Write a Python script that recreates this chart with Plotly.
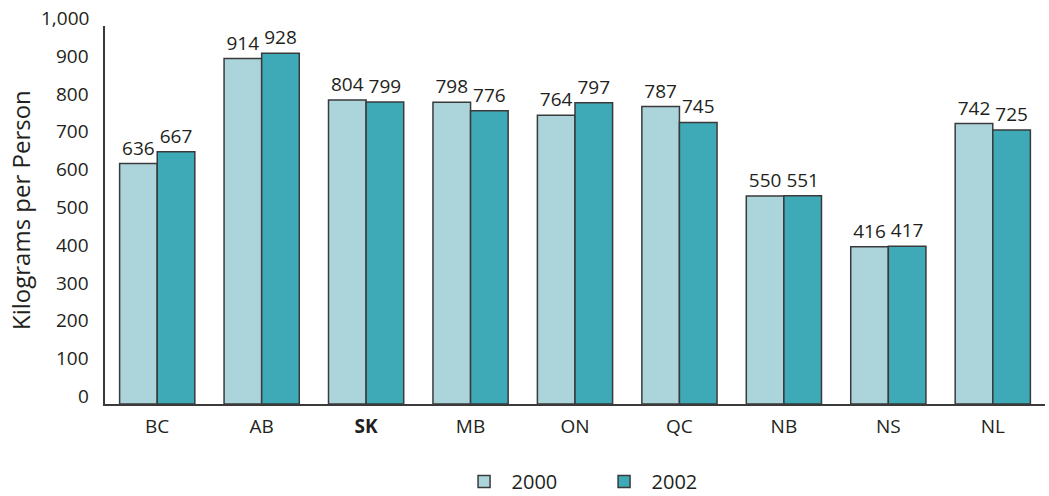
import plotly.graph_objects as go

provinces = ["BC", "AB", "SK", "MB", "ON", "QC", "NB", "NS", "NL"]
tick_text = ["BC", "AB", "<b>SK</b>", "MB", "ON", "QC", "NB", "NS", "NL"]
values_2000 = [636, 914, 804, 798, 764, 787, 550, 416, 742]
values_2002 = [667, 928, 799, 776, 797, 745, 551, 417, 725]
y_ticks = [0, 100, 200, 300, 400, 500, 600, 700, 800, 900, 1000]

FONT = "Open Sans, Noto Sans, sans-serif"
TEXT = "#231f20"
EDGE = "#3a3a3a"

fig = go.Figure()
for name, vals, color in [("2000", values_2000, "#acd5db"),
                          ("2002", values_2002, "#3eaab7")]:
    fig.add_trace(go.Bar(
        name=name, x=provinces, y=vals,
        marker=dict(color=color, line=dict(color=EDGE, width=1.5)),
        text=[str(v) for v in vals], textposition="outside",
        textfont=dict(size=19, color=TEXT, family=FONT),
        cliponaxis=False,
    ))

# y tick labels sit slightly above their gridline values
for v in y_ticks:
    fig.add_annotation(x=0, xref="paper", xanchor="right", xshift=-14,
                       y=v, yref="y", yshift=8, text=f"{v:,}", showarrow=False,
                       font=dict(size=19, color=TEXT, family=FONT))

fig.update_layout(
    width=1049, height=496,
    margin=dict(l=105, r=4, t=26, b=92, autoexpand=False),
    paper_bgcolor="white", plot_bgcolor="white",
    barmode="group", bargap=0.28, bargroupgap=0,
    font=dict(family=FONT, color=TEXT),
    showlegend=True,
    legend=dict(orientation="h", x=0.374, xanchor="left", y=-0.205, yanchor="middle",
                font=dict(size=20, color=TEXT, family=FONT),
                itemwidth=45, entrywidth=80),
    xaxis=dict(tickmode="array", tickvals=provinces, ticktext=tick_text,
               tickfont=dict(size=19, color=TEXT, family=FONT),
               showline=True, linecolor=EDGE, linewidth=1.5, ticks="",
               ticklabelstandoff=4, showgrid=False),
    yaxis=dict(range=[0, 1000], showticklabels=False, ticks="",
               showline=True, linecolor=EDGE, linewidth=1.5, showgrid=False,
               zeroline=False),
)
fig.add_annotation(x=0, xref="paper", xanchor="center", xshift=-85,
                   y=500, yref="y", yshift=5, text="Kilograms per Person", textangle=-90,
                   showarrow=False, font=dict(size=24, color=TEXT, family=FONT))

fig.write_html("out.html")
